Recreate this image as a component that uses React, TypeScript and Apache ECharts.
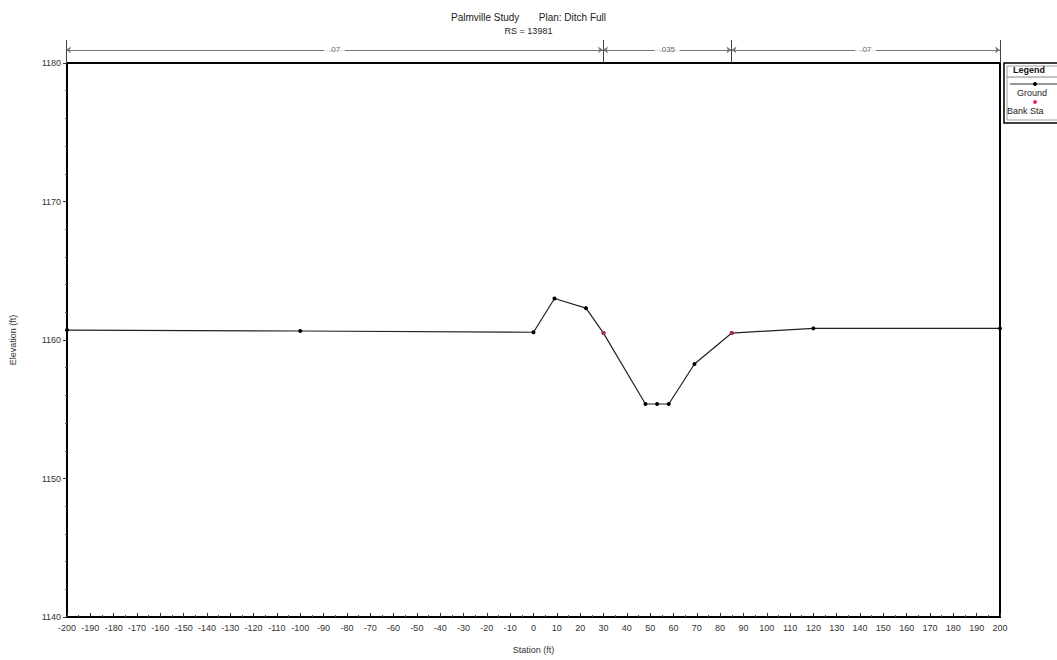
import React, { useEffect, useRef } from "react";
import * as echarts from "echarts";

const stations = [-200, -100, 0, 9, 22.5, 30, 48, 53, 58, 69, 85, 120, 200];
const elevations = [1160.72, 1160.65, 1160.56, 1163.0, 1162.3, 1160.5, 1155.38, 1155.38, 1155.38, 1158.27, 1160.5, 1160.84, 1160.84];
const bankStations = [30, 85];
const bankElevations = [1160.5, 1160.5];
const nBreaks = [-200, 30, 85, 200];
const nLabels = [".07", ".035", ".07"];
const titleLine1 = "Palmville Study       Plan: Ditch Full";
const titleLine2 = "RS = 13981";

const FONT = "Liberation Sans, Arial, sans-serif";

export default function App() {
  const ref = useRef<HTMLDivElement>(null);
  useEffect(() => {
    document.body.style.margin = "0";
    const chart = echarts.init(ref.current!, null, { renderer: "svg" });
    const ground = stations.map((s, i) => [s, elevations[i]]);
    const banks = bankStations.map((s, i) => [s, bankElevations[i]]);
    const nY = 0.57;
    const segs = nLabels.map((_, i) => ({ coords: [[nBreaks[i], nY], [nBreaks[i + 1], nY]] }));
    const ticks = nBreaks.map((b) => ({ coords: [[b, 0], [b, 1]] }));
    const mids = nLabels.map((l, i) => ({ value: [(nBreaks[i] + nBreaks[i + 1]) / 2, nY], name: l }));
    chart.setOption({
      animation: false,
      textStyle: { fontFamily: FONT },
      title: [
        { text: titleLine1, left: "center", top: 7, textStyle: { fontSize: 10, fontWeight: "normal", color: "#222", fontFamily: FONT } },
        { text: titleLine2, left: "center", top: 21, textStyle: { fontSize: 9, fontWeight: "normal", color: "#222", fontFamily: FONT } },
      ],
      grid: [
        { left: 66, right: 57, top: 63, bottom: 43, show: true, borderColor: "#000", borderWidth: 2, backgroundColor: "#fff" },
        { left: 66, right: 57, top: 40, height: 23, show: false },
      ],
      xAxis: [
        {
          type: "value", min: -200, max: 200, interval: 10, gridIndex: 0,
          name: "Station (ft)", nameLocation: "middle", nameGap: 28,
          nameTextStyle: { fontSize: 9, color: "#333" },
          axisLine: { onZero: false, lineStyle: { color: "#000", width: 2 } },
          axisTick: { inside: true, length: 4, lineStyle: { color: "#333" } },
          minorTick: { show: true, splitNumber: 2, length: 2, lineStyle: { color: "#555" } },
          splitLine: { show: false },
          axisLabel: { fontSize: 9, color: "#333", margin: 6, interval: 0, hideOverlap: false },
        },
        { type: "value", min: -200, max: 200, gridIndex: 1, show: false },
      ],
      yAxis: [
        {
          type: "value", min: 1140, max: 1180, interval: 10, gridIndex: 0,
          name: "Elevation (ft)", nameLocation: "middle", nameGap: 50, nameRotate: 90,
          nameTextStyle: { fontSize: 9, color: "#333" },
          axisLine: { onZero: false, lineStyle: { color: "#000", width: 2 } },
          axisTick: { show: true, length: 4, lineStyle: { color: "#333" } },
          minorTick: { show: true, splitNumber: 5, length: 2, lineStyle: { color: "#555" } },
          splitLine: { show: false },
          axisLabel: { fontSize: 9, color: "#333", margin: 6, formatter: (v: number) => String(v) },
        },
        { type: "value", min: 0, max: 1, gridIndex: 1, show: false },
      ],
      series: [
        {
          name: "Ground", type: "line", data: ground, xAxisIndex: 0, yAxisIndex: 0,
          symbol: "circle", symbolSize: 4, showAllSymbol: true,
          lineStyle: { color: "#222", width: 1.2 }, itemStyle: { color: "#000" },
        },
        {
          name: "Bank Sta", type: "scatter", data: banks, xAxisIndex: 0, yAxisIndex: 0,
          symbol: "circle", symbolSize: 4, itemStyle: { color: "#e8325a" }, z: 5,
        },
        {
          type: "lines", coordinateSystem: "cartesian2d", xAxisIndex: 1, yAxisIndex: 1,
          data: segs, symbol: ["arrow", "arrow"], symbolSize: 5,
          lineStyle: { color: "#777", width: 1, opacity: 1 },
        },
        {
          type: "lines", coordinateSystem: "cartesian2d", xAxisIndex: 1, yAxisIndex: 1,
          data: ticks, symbol: ["none", "none"],
          lineStyle: { color: "#444", width: 1, opacity: 1 },
        },
        {
          type: "scatter", xAxisIndex: 1, yAxisIndex: 1, data: mids, symbolSize: 0, z: 4,
          label: {
            show: true, position: "inside", formatter: (p: any) => p.name,
            fontSize: 8, color: "#333", backgroundColor: "#fff", padding: [1, 5],
          },
        },
      ],
      graphic: [
        { type: "rect", shape: { x: 1004, y: 63, width: 60, height: 60 }, style: { fill: "#fff", stroke: "#000", lineWidth: 1.5 } },
        { type: "rect", shape: { x: 1007, y: 66, width: 60, height: 54 }, style: { fill: "none", stroke: "#888", lineWidth: 0.8 } },
        { type: "text", x: 1013, y: 65, style: { text: "Legend", fontSize: 9, fontWeight: "bold", fill: "#111", fontFamily: FONT } },
        { type: "line", shape: { x1: 1007, y1: 77, x2: 1057, y2: 77 }, style: { stroke: "#666", lineWidth: 0.8 } },
        { type: "line", shape: { x1: 1010, y1: 84, x2: 1057, y2: 84 }, style: { stroke: "#333", lineWidth: 1 } },
        { type: "circle", shape: { cx: 1035, cy: 84, r: 2 }, style: { fill: "#000" } },
        { type: "text", x: 1017, y: 88, style: { text: "Ground", fontSize: 9, fill: "#222", fontFamily: FONT } },
        { type: "circle", shape: { cx: 1035, cy: 102, r: 2 }, style: { fill: "#e8325a" } },
        { type: "text", x: 1007, y: 106, style: { text: "Bank Sta", fontSize: 9, fill: "#222", fontFamily: FONT } },
      ],
    });
    return () => chart.dispose();
  }, []);
  return <div ref={ref} style={{ width: 1057, height: 660 }} />;
}
